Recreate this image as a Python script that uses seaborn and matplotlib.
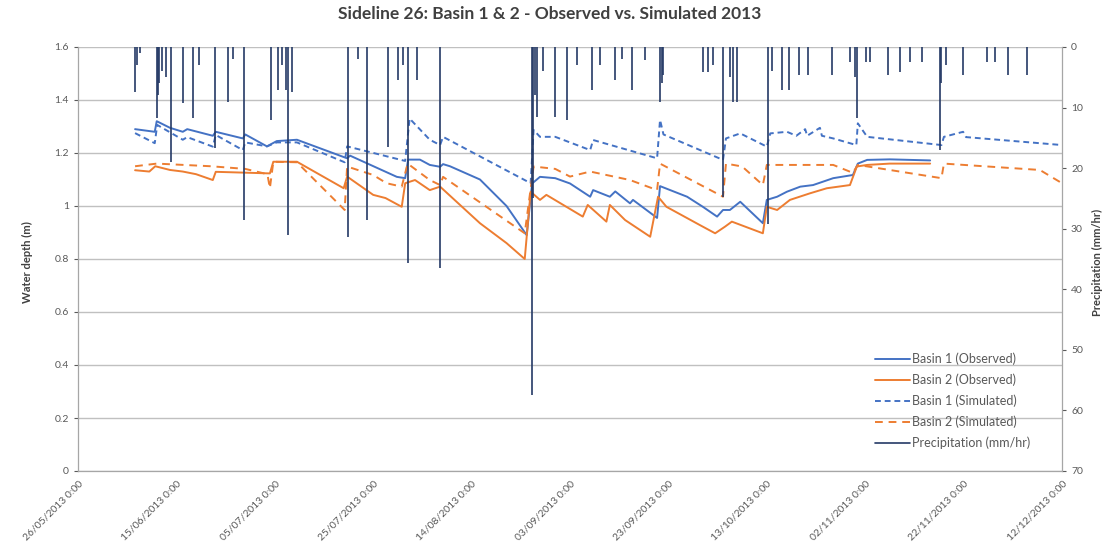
import numpy as np
import pandas as pd
import matplotlib
matplotlib.use("Agg")
import matplotlib.pyplot as plt
import seaborn as sns
from matplotlib.lines import Line2D

# ---------------- data (days since 26/05/2013, values) ----------------
START = "2013-05-26"

b1_obs_day = [11.6, 15.6, 16.0, 18.7, 21.3, 22.2, 27.4, 28.0, 33.5, 34.0, 38.4, 40.4, 44.5,
              54.7, 55.3, 64.8, 66.5, 67.1, 69.5, 71.5, 73.6, 74.2, 75.6, 81.7, 87.1, 91.2,
              92.3, 93.9, 97.0, 100.0, 104.1, 104.7, 108.1, 109.2, 112.2, 112.8, 117.7, 118.3,
              123.8, 127.0, 129.9, 131.1, 132.5, 134.6, 139.2, 140.0, 142.1, 144.1, 146.8,
              149.4, 153.5, 157.5, 158.5, 160.4, 165.0, 173.2]
b1_obs_val = [1.29, 1.28, 1.32, 1.295, 1.28, 1.29, 1.265, 1.28, 1.255, 1.27, 1.225, 1.245, 1.25,
              1.18, 1.19, 1.11, 1.105, 1.175, 1.175, 1.155, 1.148, 1.158, 1.15, 1.10, 1.0, 0.89,
              1.085, 1.11, 1.105, 1.085, 1.035, 1.06, 1.035, 1.055, 1.01, 1.023, 0.955, 1.075,
              1.035, 0.997, 0.96, 0.985, 0.985, 1.016, 0.935, 1.023, 1.035, 1.054, 1.073,
              1.079, 1.105, 1.117, 1.16, 1.174, 1.176, 1.172]

b2_obs_day = [11.6, 14.5, 15.7, 18.7, 21.3, 24.0, 27.4, 28.0, 39.0, 39.7, 44.5, 54.0, 54.7,
              60.0, 62.5, 65.8, 66.5, 68.5, 71.5, 73.6, 81.7, 87.1, 90.8, 92.0, 93.9, 95.2,
              102.6, 103.6, 107.4, 108.1, 111.2, 116.3, 117.9, 119.6, 126.4, 129.5, 131.5,
              132.9, 139.2, 140.0, 142.1, 144.7, 148.8, 152.2, 156.9, 158.3, 160.4, 165.0, 173.2]
b2_obs_val = [1.135, 1.13, 1.15, 1.136, 1.13, 1.12, 1.098, 1.129, 1.123, 1.167, 1.167, 1.067, 1.111,
              1.042, 1.03, 0.997, 1.086, 1.098, 1.06, 1.073, 0.935, 0.86, 0.80, 1.054, 1.023, 1.042,
              0.96, 1.004, 0.941, 1.004, 0.947, 0.884, 1.035, 0.997, 0.928, 0.897, 0.922,
              0.941, 0.897, 0.997, 0.985, 1.023, 1.048, 1.067, 1.079, 1.149, 1.155, 1.16, 1.16]

b1_sim_day = [11.6, 15.6, 16.1, 21.3, 22.2, 27.4, 28.0, 33.5, 34.0, 38.4, 40.4, 44.5, 54.2,
              54.7, 66.5, 67.4, 71.5, 73.6, 74.2, 92.0, 92.6, 93.9, 97.0, 104.1, 104.7, 117.7,
              118.3, 119.0, 131.1, 131.7, 134.6, 140.0, 140.7, 144.1, 146.0, 147.8, 148.2,
              150.8, 151.2, 153.5, 158.2, 158.5, 160.4, 175.5, 176.0, 179.9, 180.5, 200.0]
b1_sim_val = [1.275, 1.237, 1.306, 1.25, 1.26, 1.224, 1.268, 1.211, 1.24, 1.225, 1.24, 1.24, 1.165,
              1.225, 1.17, 1.33, 1.25, 1.23, 1.261, 1.086, 1.287, 1.261, 1.261, 1.211, 1.249, 1.18,
              1.325, 1.27, 1.174, 1.255, 1.274, 1.224, 1.274, 1.28, 1.265, 1.29, 1.265,
              1.295, 1.265, 1.255, 1.23, 1.312, 1.261, 1.23, 1.261, 1.28, 1.26, 1.23]

b2_sim_day = [11.6, 16.0, 27.0, 34.0, 38.5, 39.0, 39.7, 44.5, 54.2, 54.7, 60.0, 62.7, 65.8,
              67.0, 71.5, 73.6, 74.2, 90.8, 92.6, 97.0, 100.0, 104.1, 112.2, 117.7, 118.3,
              131.1, 131.7, 135.0, 139.2, 140.0, 153.5, 157.5, 158.5, 175.5, 176.0, 195.5, 200.0]
b2_sim_val = [1.15, 1.16, 1.15, 1.14, 1.12, 1.067, 1.167, 1.165, 0.985, 1.149, 1.117, 1.086, 1.073,
              1.16, 1.098, 1.079, 1.11, 0.897, 1.149, 1.14, 1.111, 1.13, 1.098, 1.06, 1.16,
              1.035, 1.16, 1.149, 1.079, 1.155, 1.155, 1.125, 1.155, 1.105, 1.16, 1.136, 1.086]

rain_day = [11.6, 12.0, 12.6, 16.0, 16.2, 16.4, 17.0, 17.9, 18.9, 21.3, 23.4, 24.5, 27.8, 30.5,
            31.5, 33.7, 39.2, 40.7, 41.5, 42.3, 42.7, 43.5, 54.9, 57.0, 58.7, 63.0, 65.0, 66.0,
            67.1, 68.9, 73.6, 92.2, 92.5, 92.8, 93.2, 94.5, 96.9, 99.3, 101.5, 104.4, 106.0,
            109.1, 110.5, 112.5, 115.2, 118.3, 118.6, 118.9, 127.0, 128.0, 129.0, 131.1, 132.5,
            133.1, 134.0, 140.2, 141.0, 143.1, 144.5, 146.5, 148.4, 153.3, 156.9, 158.0, 158.3,
            160.2, 161.0, 164.6, 167.1, 169.1, 171.5, 175.2, 175.5, 176.5, 179.9, 184.8, 186.4,
            189.0, 192.9]
rain_val = [7.4, 3.0, 1.0, 11.7, 8.0, 6.0, 4.0, 5.0, 19.0, 9.2, 11.7, 3.0, 16.7, 9.1,
            2.0, 28.5, 12.0, 7.1, 3.0, 7.1, 31.0, 7.4, 31.3, 2.0, 28.5, 16.5, 5.4, 3.0,
            35.6, 5.4, 36.5, 57.4, 25.0, 8.0, 11.5, 4.0, 11.5, 12.0, 3.0, 7.1, 3.0,
            5.4, 2.0, 7.1, 2.1, 9.1, 6.0, 4.6, 4.1, 4.1, 3.0, 24.7, 5.0,
            9.1, 9.1, 29.2, 4.0, 7.1, 7.1, 4.6, 4.6, 4.6, 2.5, 5.0, 11.7,
            2.5, 2.5, 4.6, 4.1, 2.5, 2.5, 17.0, 6.0, 3.0, 4.6, 2.5, 2.5,
            4.6, 4.6]

tick_days = [0, 20, 40, 60, 80, 100, 120, 140, 160, 180, 200]
depth_ticks = [0, 0.2, 0.4, 0.6, 0.8, 1.0, 1.2, 1.4, 1.6]
rain_ticks = [0, 10, 20, 30, 40, 50, 60, 70]

labels = ["Basin 1 (Observed)", "Basin 2 (Observed)", "Basin 1 (Simulated)",
          "Basin 2 (Simulated)", "Precipitation (mm/hr)"]

# ---------------- helpers ----------------
start = pd.Timestamp(START)
def to_dt(days):
    return start + pd.to_timedelta(np.asarray(days, dtype=float), unit="D")

BLUE = "#4472C4"
ORANGE = "#ED7D31"
RAIN = "#253A66"
GRID = "#C0C0C0"
TXT = "#595959"

sns.set_theme(style="white")
plt.rcParams["font.family"] = ["Lato", "DejaVu Sans"]

fig = plt.figure(figsize=(11.02, 5.48), dpi=100)
ax = fig.add_axes([78 / 1102, 1 - 471 / 548, 984 / 1102, 424 / 548])

series = [
    (b1_obs_day, b1_obs_val, BLUE, "-"),
    (b2_obs_day, b2_obs_val, ORANGE, "-"),
    (b1_sim_day, b1_sim_val, BLUE, (0, (3, 2))),
    (b2_sim_day, b2_sim_val, ORANGE, (0, (4, 3))),
]
for d, v, c, ls in series:
    df = pd.DataFrame({"t": to_dt(d), "v": v})
    sns.lineplot(data=df, x="t", y="v", ax=ax, color=c, lw=1.4, linestyle=ls,
                 estimator=None, sort=False, legend=False)

ax.set_xlim(to_dt([0])[0], to_dt([200])[0])
ax.set_ylim(0, 1.6)
ax.set_yticks(depth_ticks)
ax.set_yticklabels([("%g" % t) for t in depth_ticks])
ax.set_xticks(to_dt(tick_days))
ax.set_xticklabels([t.strftime("%d/%m/%Y 0:00") for t in to_dt(tick_days)],
                   rotation=45, ha="right", va="top", rotation_mode="anchor")
ax.grid(axis="y", color=GRID, lw=1.0)
ax.grid(axis="x", visible=False)
ax.set_xlabel("")
ax.set_ylabel("")
ax.tick_params(axis="both", labelsize=7.5, colors=TXT, length=3, width=0.8, direction="out")
ax.tick_params(axis="x", pad=3)
for s in ["left", "bottom"]:
    ax.spines[s].set_color("#A6A6A6")
    ax.spines[s].set_linewidth(0.9)
ax.spines["top"].set_visible(False)
ax.spines["right"].set_visible(False)

ax2 = ax.twinx()
ax2.vlines(to_dt(rain_day), 0, rain_val, color=RAIN, lw=1.2)
ax2.set_ylim(70, 0)
ax2.set_yticks(rain_ticks)
ax2.set_yticklabels([str(t) for t in rain_ticks])
ax2.tick_params(axis="y", labelsize=7.5, colors=TXT, length=3, width=0.8, direction="out")
ax2.grid(False)
ax2.spines["right"].set_color("#A6A6A6")
ax2.spines["right"].set_linewidth(0.9)
for s in ["top", "left", "bottom"]:
    ax2.spines[s].set_visible(False)
ax2.set_ylabel("")

handles = [
    Line2D([], [], color=BLUE, lw=1.4),
    Line2D([], [], color=ORANGE, lw=1.4),
    Line2D([], [], color=BLUE, lw=1.4, linestyle=(0, (3, 2))),
    Line2D([], [], color=ORANGE, lw=1.4, linestyle=(0, (4, 3))),
    Line2D([], [], color=RAIN, lw=1.2),
]
leg = ax2.legend(handles, labels, loc="lower right", bbox_to_anchor=(0.97, 0.045),
                 frameon=False, fontsize=9, handlelength=2.8, handletextpad=0.15,
                 labelspacing=0.68, borderaxespad=0, borderpad=0.2)
for t in leg.get_texts():
    t.set_color(TXT)

fig.text(0.4986, 1 - 14 / 548, "Sideline 26: Basin 1 & 2 - Observed vs. Simulated 2013",
         ha="center", va="center", fontsize=12.5, fontweight="bold", color="#404040")
fig.text(27 / 1102, 1 - 262 / 548, "Water depth (m)", rotation=90, ha="center", va="center",
         fontsize=8, fontweight="bold", color="#404040")
fig.text(1097 / 1102, 1 - 262 / 548, "Precipitation (mm/hr)", rotation=90, ha="center",
         va="center", fontsize=8, fontweight="bold", color="#404040")

fig.savefig("out.png", dpi=100)
